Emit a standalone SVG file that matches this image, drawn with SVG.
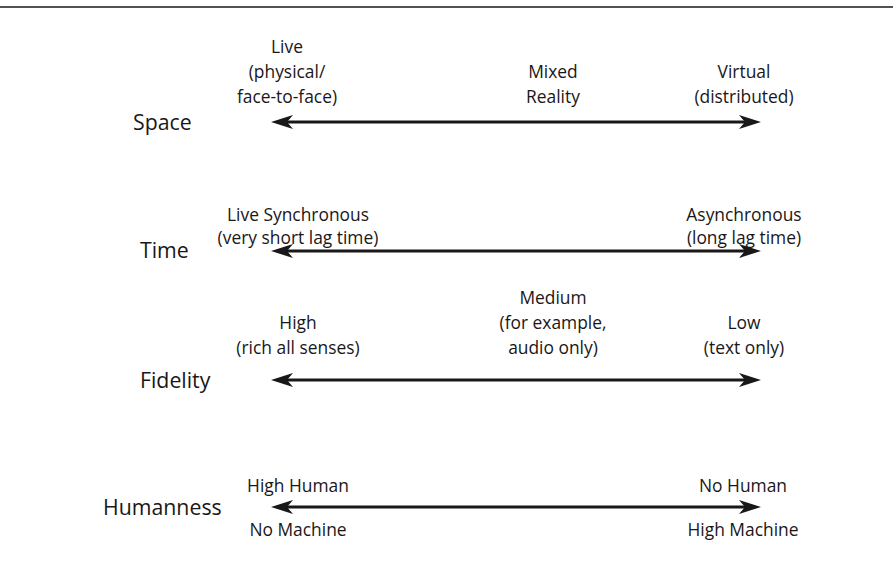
<svg xmlns="http://www.w3.org/2000/svg" width="893" height="566" viewBox="0 0 893 566">
<style>
.t{font-family:"Open Sans","Noto Sans","Liberation Sans",sans-serif;font-size:17.4px;fill:#1a1718;text-anchor:middle}
.h{font-family:"Open Sans","Noto Sans","Liberation Sans",sans-serif;font-size:21.3px;fill:#1a1718}
.ax{stroke:#1a1718;stroke-width:3;fill:none;marker-start:url(#ah);marker-end:url(#ah)}
</style>
<defs>
<marker id="ah" viewBox="0 0 22 14" refX="12" refY="7" markerWidth="22" markerHeight="14" orient="auto-start-reverse" markerUnits="userSpaceOnUse">
<path d="M0,0 L22,7 L0,14 L6,7 Z" fill="#1a1718"/>
</marker>
</defs>
<rect width="893" height="566" fill="#fff"/>
<line x1="0" y1="7" x2="893" y2="7" stroke="#1a1718" stroke-width="1.5"/>
<g id="connectors">
<line class="ax" x1="281" y1="122" x2="751" y2="122"/>
<line class="ax" x1="281" y1="251" x2="751" y2="251"/>
<line class="ax" x1="281" y1="380" x2="751" y2="380"/>
<line class="ax" x1="281" y1="507" x2="751" y2="507"/>
</g>
<g id="space">
<text class="h" x="133" y="130">Space</text>
<text class="t" x="287" y="53">Live</text>
<text class="t" x="287" y="78">(physical/</text>
<text class="t" x="287" y="103">face-to-face)</text>
<text class="t" x="553" y="78">Mixed</text>
<text class="t" x="553" y="103">Reality</text>
<text class="t" x="744" y="78">Virtual</text>
<text class="t" x="744" y="103">(distributed)</text>
</g>
<g id="time">
<text class="h" x="140" y="258">Time</text>
<text class="t" x="298" y="221">Live Synchronous</text>
<text class="t" x="298" y="244">(very short lag time)</text>
<text class="t" x="744" y="221">Asynchronous</text>
<text class="t" x="744" y="244">(long lag time)</text>
</g>
<g id="fidelity">
<text class="h" x="140" y="388">Fidelity</text>
<text class="t" x="553" y="304">Medium</text>
<text class="t" x="553" y="329">(for example,</text>
<text class="t" x="553" y="354">audio only)</text>
<text class="t" x="298" y="329">High</text>
<text class="t" x="298" y="354">(rich all senses)</text>
<text class="t" x="744" y="329">Low</text>
<text class="t" x="744" y="354">(text only)</text>
</g>
<g id="humanness">
<text class="h" x="103" y="515">Humanness</text>
<text class="t" x="298" y="492">High Human</text>
<text class="t" x="298" y="536">No Machine</text>
<text class="t" x="743" y="492">No Human</text>
<text class="t" x="743" y="536">High Machine</text>
</g>
</svg>
